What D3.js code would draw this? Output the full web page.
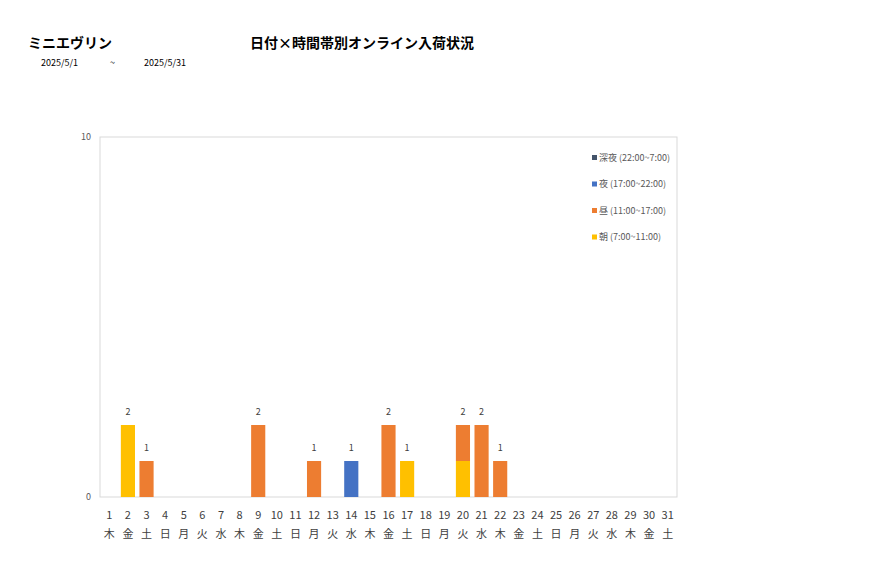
<!DOCTYPE html>
<html><head><meta charset="utf-8">
<script src="https://cdn.jsdelivr.net/npm/d3@7"></script>
<style>body{margin:0;background:#fff;font-family:"Noto Sans CJK JP","Noto Sans",sans-serif}</style>
</head><body>
<svg id="chart" width="877" height="578"></svg>
<script>
const days = d3.range(1, 32);
const weekdays = ["木","金","土","日","月","火","水","木","金","土","日","月","火","水","木","金","土","日","月","火","水","木","金","土","日","月","火","水","木","金","土"];
// counts per day (index = day-1)
const asa   = [0,2,0,0,0,0,0,0,0,0,0,0,0,0,0,0,1,0,0,1,0,0,0,0,0,0,0,0,0,0,0];
const hiru  = [0,0,1,0,0,0,0,0,2,0,0,1,0,0,0,2,0,0,0,1,2,1,0,0,0,0,0,0,0,0,0];
const yoru  = [0,0,0,0,0,0,0,0,0,0,0,0,0,1,0,0,0,0,0,0,0,0,0,0,0,0,0,0,0,0,0];
const shinya= [0,0,0,0,0,0,0,0,0,0,0,0,0,0,0,0,0,0,0,0,0,0,0,0,0,0,0,0,0,0,0];
const seriesNames = ["朝 (7:00~11:00)","昼 (11:00~17:00)","夜 (17:00~22:00)","深夜 (22:00~7:00)"];
const colors = ["#ffc000","#ed7d31","#4472c4","#44546a"];
const yTicks = [0, 10];

const rows = days.map((d, i) => ({day: d, s0: asa[i], s1: hiru[i], s2: yoru[i], s3: shinya[i]}));
const stack = d3.stack().keys(["s0","s1","s2","s3"])(rows);

const svg = d3.select("#chart");
const L = 100, R = 677, T = 137, B = 497;
const x = d3.scaleBand().domain(days).range([L, R]).paddingInner(0.24).paddingOuter(0.12);
const y = d3.scaleLinear().domain([0, 10]).range([B, T]);

svg.append("text").attr("x", 28).attr("y", 48).attr("font-size", 14).attr("font-weight", "bold").text("ミニエヴリン");
svg.append("text").attr("x", 250).attr("y", 48).attr("font-size", 14).attr("font-weight", "bold").text("日付×時間帯別オンライン入荷状況");
svg.append("text").attr("x", 41).attr("y", 66).attr("font-size", 9).text("2025/5/1");
svg.append("text").attr("x", 110).attr("y", 66).attr("font-size", 9).text("~");
svg.append("text").attr("x", 144).attr("y", 66).attr("font-size", 9).text("2025/5/31");

svg.append("rect").attr("x", L).attr("y", T).attr("width", R - L).attr("height", B - T)
  .attr("fill", "none").attr("stroke", "#d9d9d9");

svg.selectAll(".yt").data(yTicks).join("text")
  .attr("x", L - 9).attr("y", d => y(d) + 3).attr("text-anchor", "end")
  .attr("font-size", 9).attr("fill", "#595959").text(d => d);

svg.append("g").selectAll("g").data(stack).join("g").attr("fill", (d, i) => colors[i])
  .selectAll("rect").data(d => d.filter(p => p[1] > p[0])).join("rect")
  .attr("x", d => x(d.data.day)).attr("width", x.bandwidth())
  .attr("y", d => y(d[1])).attr("height", d => y(d[0]) - y(d[1]));

svg.selectAll(".tot").data(rows.filter(r => r.s0 + r.s1 + r.s2 + r.s3 > 0)).join("text")
  .attr("x", d => x(d.day) + x.bandwidth() / 2).attr("y", d => y(d.s0 + d.s1 + d.s2 + d.s3) - 10)
  .attr("text-anchor", "middle").attr("font-size", 9).attr("fill", "#404040")
  .text(d => d.s0 + d.s1 + d.s2 + d.s3);

svg.selectAll(".dl").data(days).join("text")
  .attr("x", d => x(d) + x.bandwidth() / 2).attr("y", 519).attr("text-anchor", "middle")
  .attr("font-size", 11).attr("fill", "#404040").text(d => d);
svg.selectAll(".wl").data(days).join("text")
  .attr("x", d => x(d) + x.bandwidth() / 2).attr("y", 538).attr("text-anchor", "middle")
  .attr("font-size", 11).attr("fill", "#404040").text((d, i) => weekdays[i]);

const legendOrder = [3, 2, 1, 0];
const lg = svg.selectAll(".lg").data(legendOrder).join("g")
  .attr("transform", (d, i) => `translate(592,${159 + i * 26.5})`);
lg.append("rect").attr("x", 0).attr("y", -4).attr("width", 5).attr("height", 5).attr("fill", d => colors[d]);
lg.append("text").attr("x", 7).attr("y", 1.5).attr("font-size", 9).attr("fill", "#595959").text(d => seriesNames[d]);
</script>
</body></html>
